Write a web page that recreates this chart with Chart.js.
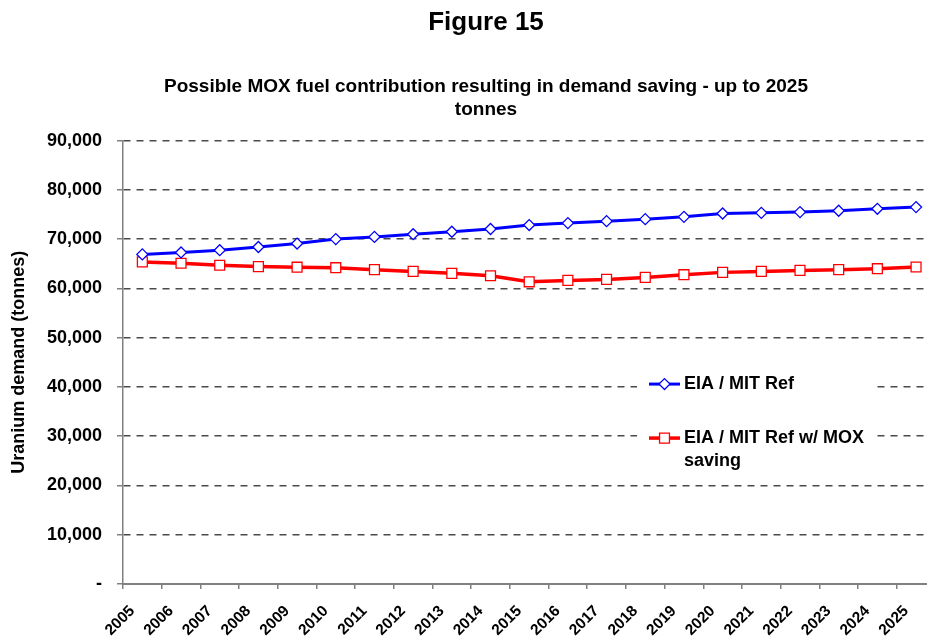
<!DOCTYPE html>
<html>
<head>
<meta charset="utf-8">
<script src="https://cdn.jsdelivr.net/npm/chart.js@4/dist/chart.umd.min.js"></script>
<style>
  html, body { margin: 0; padding: 0; background: #fff; overflow: hidden; }
  #wrap { position: relative; width: 972px; height: 636px; }
</style>
</head>
<body>
<div id="wrap"><canvas id="c" width="972" height="636"></canvas></div>
<script>
// ---- data ----
const years = ['2005','2006','2007','2008','2009','2010','2011','2012','2013','2014','2015',
               '2016','2017','2018','2019','2020','2021','2022','2023','2024','2025'];
const eiaMitRef = [66900, 67300, 67750, 68400, 69100, 70000, 70450, 71000, 71500, 72050, 72850,
                   73250, 73650, 74050, 74520, 75200, 75330, 75480, 75750, 76150, 76500];
const eiaMitRefMox = [65380, 65100, 64700, 64420, 64300, 64200, 63800, 63450, 63050, 62560, 61340,
                      61620, 61820, 62230, 62780, 63250, 63450, 63650, 63800, 64000, 64340];
const seriesLabels = ['EIA / MIT Ref', 'EIA / MIT Ref w/ MOX saving'];
const yMin = 0, yMax = 90000, yStep = 10000;
const chartTitle = 'Figure 15';
const chartSubtitle = ['Possible MOX fuel contribution resulting in demand saving - up to 2025', 'tonnes'];
const yAxisTitle = 'Uranium demand (tonnes)';

const FONT = '"Liberation Sans", Arial, Helvetica, sans-serif';

const insideLegend = {
  id: 'insideLegend',
  afterDraw(chart) {
    const ctx = chart.ctx;
    const a = chart.chartArea;
    const bx = a.left + 514, by = a.top + 228, bw = 236, bh = 106;
    ctx.save();
    ctx.fillStyle = '#ffffff';
    ctx.fillRect(bx, by, bw, bh);
    ctx.font = 'bold 18px ' + FONT;
    ctx.textBaseline = 'middle';
    ctx.textAlign = 'left';
    const rows = [a.top + 243.5, a.top + 297.5];
    chart.data.datasets.forEach((ds, i) => {
      const y = rows[i];
      const x0 = bx + 12, x1 = bx + 43, xm = (x0 + x1) / 2;
      ctx.strokeStyle = ds.borderColor;
      ctx.lineWidth = ds.borderWidth;
      ctx.setLineDash([]);
      ctx.beginPath(); ctx.moveTo(x0, y); ctx.lineTo(x1, y); ctx.stroke();
      ctx.fillStyle = ds.pointBackgroundColor;
      ctx.strokeStyle = ds.pointBorderColor;
      ctx.lineWidth = ds.pointBorderWidth;
      Chart.helpers.drawPoint(ctx, {pointStyle: ds.pointStyle, rotation: 0, radius: ds.pointRadius, borderWidth: ds.pointBorderWidth}, xm, y);
      // wrap label
      const words = ds.label.split(' ');
      const lines = [];
      let cur = '';
      words.forEach(w => {
        const t = cur ? cur + ' ' + w : w;
        if (ctx.measureText(t).width > 192 && cur) { lines.push(cur); cur = w; } else cur = t;
      });
      if (cur) lines.push(cur);
      ctx.fillStyle = '#000';
      lines.forEach((ln, k) => ctx.fillText(ln, bx + 47, y + k * 23));
    });
    ctx.restore();
  }
};

new Chart(document.getElementById('c'), {
  type: 'line',
  data: {
    labels: years,
    datasets: [
      {
        label: seriesLabels[0],
        data: eiaMitRef,
        borderColor: '#0000ff',
        borderWidth: 3,
        pointStyle: 'rectRot',
        pointRadius: 5.5,
        pointHoverRadius: 5.5,
        pointBackgroundColor: '#ffffff',
        pointBorderColor: '#0000ff',
        pointBorderWidth: 1.3,
        tension: 0,
        yAxisID: 'y'
      },
      {
        label: seriesLabels[1],
        data: eiaMitRefMox,
        borderColor: '#ff0000',
        borderWidth: 3.5,
        pointStyle: 'rect',
        pointRadius: 7,
        pointHoverRadius: 7,
        pointBackgroundColor: '#ffffff',
        pointBorderColor: '#ff0000',
        pointBorderWidth: 1.3,
        tension: 0,
        yAxisID: 'y'
      }
    ]
  },
  options: {
    responsive: false,
    animation: false,
    devicePixelRatio: 1,
    layout: { padding: 0 },
    plugins: {
      legend: { display: false },
      tooltip: { enabled: false },
      title: {
        display: true,
        text: chartTitle,
        color: '#000',
        font: { family: FONT, size: 26, weight: 'bold', lineHeight: 1.2 },
        padding: { top: 7.5, bottom: 36.8 }
      },
      subtitle: {
        display: true,
        text: chartSubtitle,
        color: '#000',
        font: { family: FONT, size: 19, weight: 'bold', lineHeight: 1.21 },
        padding: { top: 0, bottom: 19.1 }
      }
    },
    scales: {
      x: {
        type: 'category',
        offset: true,
        grid: {
          display: true,
          drawOnChartArea: false,
          offset: true,
          tickLength: 5,
          color: '#808080',
          lineWidth: 1.5
        },
        border: { display: true, color: '#808080', width: 2 },
        ticks: {
          autoSkip: false,
          minRotation: 45,
          maxRotation: 45,
          labelOffset: -10,
          padding: 13,
          color: '#000',
          font: { family: FONT, size: 15.5, weight: 'bold' }
        },
        afterFit(s) { s.height = 52; }
      },
      y: {
        position: 'left',
        min: yMin,
        max: yMax,
        ticks: {
          stepSize: yStep,
          padding: 15,
          color: '#000',
          font: { family: FONT, size: 18, weight: 'bold' },
          callback: v => v === 0 ? '-' : v.toLocaleString('en-US')
        },
        grid: {
          color: ctx => (ctx.tick && ctx.tick.value === 0) ? 'rgba(0,0,0,0)' : '#4a4a4a',
          lineWidth: 1.5,
          tickLength: 6,
          tickColor: '#808080',
          tickWidth: 1.5
        },
        border: { display: true, color: '#808080', width: 1.5, dash: [7, 6] },
        title: {
          display: true,
          text: yAxisTitle,
          color: '#000',
          font: { family: FONT, size: 18, weight: 'bold', lineHeight: 1.2 },
          padding: { top: 8, bottom: 0 }
        },
        afterFit(s) { s.width = 123; }
      },
      yPad: {
        position: 'right',
        display: true,
        grid: { display: false, drawTicks: false },
        border: { display: false },
        ticks: { display: false },
        afterFit(s) { s.width = 36.6; }
      }
    }
  },
  plugins: [insideLegend]
});
</script>
</body>
</html>
